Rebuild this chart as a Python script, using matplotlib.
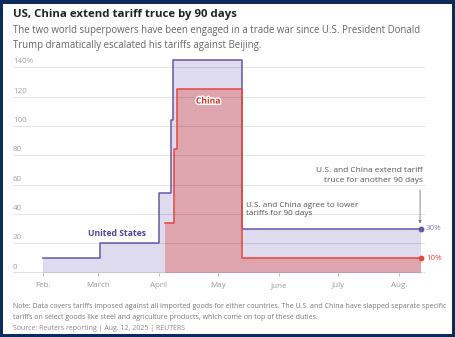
import numpy as np
import pandas as pd
import matplotlib
matplotlib.use('Agg')
import matplotlib.pyplot as plt
import matplotlib.patheffects as pe
from matplotlib.patches import Rectangle


# data
us_dates = ['2025-02-01', '2025-03-02', '2025-04-01', '2025-04-07', '2025-04-08',
            '2025-05-13', '2025-08-12']
us_rates = [10, 20, 54, 104, 145, 30, 30]
china_dates = ['2025-04-04 00:00', '2025-04-08 12:00', '2025-04-10 00:00',
               '2025-05-13 00:00', '2025-08-12 00:00']
china_rates = [34, 84, 125, 10, 10]
month_ticks = ['2025-02-01', '2025-03-01', '2025-04-01', '2025-05-01',
               '2025-06-01', '2025-07-01', '2025-08-01']
month_labels = ['Feb.', 'March', 'April', 'May', 'June', 'July', 'Aug.']
y_ticks = [0, 20, 40, 60, 80, 100, 120, 140]
y_labels = ['0', '20', '40', '60', '80', '100', '120', '140%']

US_LINE = '#6459a6'
US_FILL = '#dddbed'
CN_LINE = '#e5473f'
FONT = 'Open Sans'

plt.rcParams['font.family'] = [FONT, 'DejaVu Sans']

W, H = 456, 337
fig = plt.figure(figsize=(W / 100, H / 100), dpi=100)
fig.patch.set_facecolor('#0c2a5c')
fig.patches.append(Rectangle((3 / W, 3 / H), 449 / W, 330 / H, transform=fig.transFigure,
                             facecolor='white', edgecolor='none', zorder=-10))

ax = fig.add_axes([13 / W, 64.3 / H, 412 / W, 217.1 / H])
ax.set_facecolor('none')

us_x = pd.to_datetime(us_dates, format='mixed')
cn_x = pd.to_datetime(china_dates, format='mixed')

ax.fill_between(us_x, us_rates, step='post', color=US_FILL, lw=0, zorder=1)
ax.fill_between(cn_x, china_rates, step='post', color=CN_LINE, alpha=0.36, lw=0, zorder=2)
for v in y_ticks[1:]:
    ax.axhline(v, color='black', alpha=0.11, lw=0.7, zorder=3)
ax.step(us_x, us_rates, where='post', color=US_LINE, lw=1.1, zorder=5)
ax.step(cn_x, china_rates, where='post', color=CN_LINE, lw=1.1, zorder=6)
ax.axhline(0, color='#666666', lw=1.0, zorder=7)

ax.scatter([us_x[-1]], [us_rates[-1]], s=10, color=US_LINE, zorder=8)
ax.scatter([cn_x[-1]], [china_rates[-1]], s=10, color=CN_LINE, zorder=8)
ax.annotate('%d%%' % us_rates[-1], (us_x[-1], us_rates[-1]), xytext=(3.5, 0),
            textcoords='offset points', va='center', ha='left', fontsize=5.8, color='#8a82c0')
ax.annotate('%d%%' % china_rates[-1], (cn_x[-1], china_rates[-1]), xytext=(3.5, 0),
            textcoords='offset points', va='center', ha='left', fontsize=5.8, color=CN_LINE)

ax.set_xlim(pd.Timestamp('2025-01-17'), pd.Timestamp('2025-08-14'))
ax.set_ylim(0, 148)
ax.set_xticks(pd.to_datetime(month_ticks))
ax.set_xticklabels(month_labels)
ax.tick_params(axis='x', length=2, width=0.6, color='#aaaaaa', labelsize=5.8,
               labelcolor='#9a9a9a', pad=5)
ax.set_yticks([])
for s in ax.spines.values():
    s.set_visible(False)

ytr = ax.get_yaxis_transform()
for v, lab in zip(y_ticks, y_labels):
    ax.text(0, v + 1.3, lab, transform=ytr, ha='left', va='bottom', fontsize=5.8,
            color='#a0a0a0', zorder=9)

ax.text(pd.Timestamp('2025-03-11'), 27, 'United States', ha='center', va='center',
        fontsize=6.2, fontweight='bold', color='#4f4496', zorder=9)
ax.text(pd.Timestamp('2025-04-26'), 117, 'China', ha='center', va='center',
        fontsize=6.2, fontweight='bold', color='#d8342d', zorder=9,
        path_effects=[pe.withStroke(linewidth=2.2, foreground='white')])
ax.text(pd.Timestamp('2025-05-15'), 48.5, 'U.S. and China agree to lower\ntariffs for 90 days',
        ha='left', va='top', fontsize=5.9, color='#555555', linespacing=1.35, zorder=9)
ax.text(pd.Timestamp('2025-08-13'), 72, 'U.S. and China extend tariff\ntruce for another 90 days',
        ha='right', va='top', fontsize=6.0, color='#555555', linespacing=1.6, zorder=9)
ax.annotate('', xy=(pd.Timestamp('2025-08-11 12:00'), 33.5),
            xytext=(pd.Timestamp('2025-08-11 12:00'), 56.5),
            arrowprops=dict(arrowstyle='-|>', color='#777777', lw=0.6,
                            mutation_scale=4, shrinkA=0, shrinkB=0), zorder=9)

fig.text(13 / W, 1 - 16.7 / H, 'US, China extend tariff truce by 90 days', ha='left',
         va='baseline', fontsize=8.2, fontweight='bold', color='#222222')
fig.text(13 / W, 1 - 33.3 / H,
         'The two world superpowers have been engaged in a trade war since U.S. President Donald',
         ha='left', va='baseline', fontsize=6.9, color='#666666')
fig.text(13 / W, 1 - 47.6 / H, 'Trump dramatically escalated his tariffs against Beijing.',
         ha='left', va='baseline', fontsize=6.9, color='#666666')

fig.text(13 / W, 1 - 306 / H,
         'Note: Data covers tariffs imposed against all imported goods for either countries. '
         'The U.S. and China have slapped separate specific',
         ha='left', va='center', fontsize=5.05, color='#777777')
fig.text(13 / W, 1 - 317.7 / H,
         'tariffs on select goods like steel and agriculture products, which come on top of these duties.',
         ha='left', va='center', fontsize=5.05, color='#777777')
fig.text(13 / W, 1 - 329 / H, 'Source: Reuters reporting | Aug. 12, 2025 | REUTERS',
         ha='left', va='center', fontsize=5.05, color='#888888')

fig.savefig('out.png', dpi=100, facecolor=fig.get_facecolor())
